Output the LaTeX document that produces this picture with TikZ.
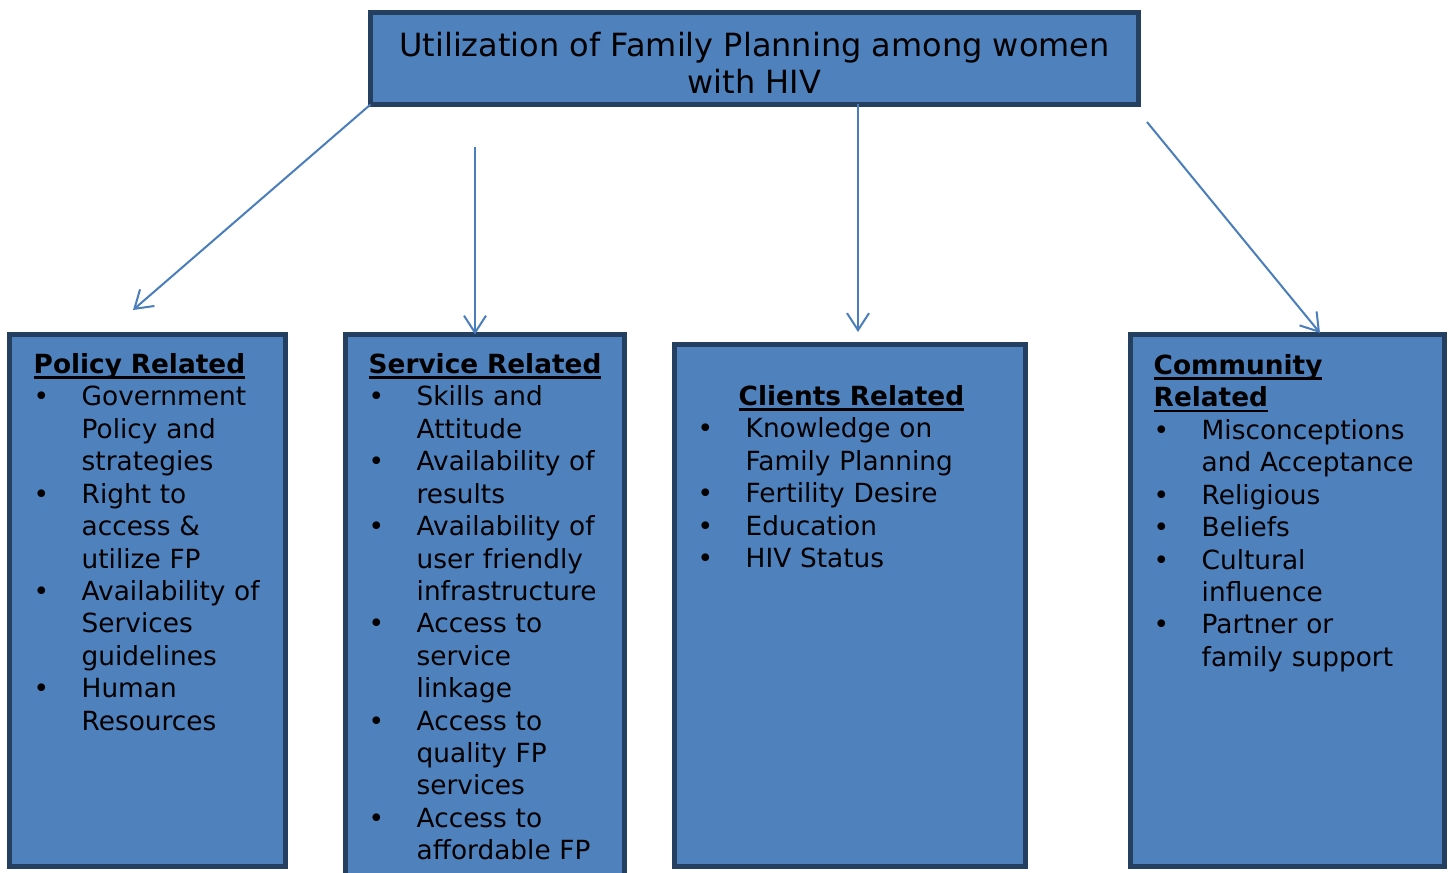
\documentclass[tikz,border=0pt]{standalone}
\usepackage{fontspec}
\setmainfont{DejaVu Sans}
\usepackage{enumitem}
\usetikzlibrary{
  arrows.meta,
  positioning,
  calc
}
\usepackage{xcolor}
\definecolor{boxBlue}{HTML}{4F81BD}
\definecolor{boxEdge}{HTML}{243F60}
\definecolor{arrowBlue}{HTML}{4A7EBB}
\setlist[itemize]{nosep, leftmargin=0.48cm, labelindent=0pt,
  labelwidth=0.2cm, labelsep=0.28cm, align=left, label=\textbullet}
\newcommand{\ulhead}[1]{\leavevmode\setbox0\hbox{\textbf{#1}}%
  \rlap{\rule[-1.5pt]{\wd0}{0.7pt}}\box0}
\tikzset{
  factorBox/.style={
    draw=boxEdge,
    fill=boxBlue,
    line width=1.4pt,
    inner sep=0pt,
    outer sep=0pt,
    anchor=north west
  }
}
\tikzset{
  listText/.style={
    anchor=north west,
    inner sep=0pt,
    text width=3cm,
    align=left,
    font=\fontsize{7.5pt}{9.22pt}\selectfont
  }
}
\tikzset{
  link/.style={
    draw=arrowBlue,
    line width=0.57pt,
    -{Straight Barb[length=1.7mm,width=2.2mm]}
  }
}

\begin{document}
\begin{tikzpicture}
    \useasboundingbox (0,0) rectangle (14.5,-8.72);
    % boxes
    \node[factorBox, minimum width=7.68cm, minimum height=0.92cm]
      (title) at (3.705,-0.125) {};
    \node[factorBox, minimum width=2.76cm, minimum height=5.32cm]
      (policy) at (0.095,-3.345) {};
    \node[factorBox, minimum width=2.79cm, minimum height=5.6cm]
      (service) at (3.455,-3.345) {};
    \node[factorBox, minimum width=3.51cm, minimum height=5.22cm]
      (clients) at (6.745,-3.445) {};
    \node[factorBox, minimum width=3.14cm, minimum height=5.32cm]
      (community) at (11.305,-3.345) {};
    % texts
    \node[anchor=north, inner sep=0pt, align=center,
      font=\fontsize{9.1pt}{10.5pt}\selectfont] (titleText) at (7.545,-0.302)
      {\strut Utilization of Family Planning among women\\with HIV};
    \node[listText] (policyText) at (0.33,-3.502) {\strut\ulhead{Policy Related}
      \begin{itemize}
        \item Government\\Policy and\\strategies
        \item Right to\\access \&\\utilize FP
        \item Availability of\\Services\\guidelines
        \item Human\\Resources
      \end{itemize}};
    \node[listText] (serviceText) at (3.68,-3.502) {\strut\ulhead{Service Related}
      \begin{itemize}
        \item Skills and\\Attitude
        \item Availability of\\results
        \item Availability of\\user friendly\\infrastructure
        \item Access to\\service\\linkage
        \item Access to\\quality FP\\services
        \item Access to\\affordable FP
      \end{itemize}};
    \node[listText] (clientsText) at (6.97,-3.822)
      {\strut\hspace*{0.41cm}\ulhead{Clients Related}
      \begin{itemize}
        \item Knowledge on\\Family Planning
        \item Fertility Desire
        \item Education
        \item HIV Status
      \end{itemize}};
    \node[listText] (communityText) at (11.53,-3.512)
      {\strut\ulhead{Community}\\\strut\ulhead{Related}
      \begin{itemize}
        \item Misconceptions\\and Acceptance
        \item Religious
        \item Beliefs
        \item Cultural\\influence
        \item Partner or\\family support
      \end{itemize}};
    % arrows
    \coordinate (policyTip) at (1.33,-3.10);
    \coordinate (serviceTail) at (4.75,-1.47);
    \coordinate (clientsTip) at (8.58,-3.32);
    \coordinate (communityTail) at (11.47,-1.22);
    \coordinate (communityTip) at (13.20,-3.33);
    \draw[link] (title.south west) -- (policyTip);
    \draw[link] (serviceTail) -- (serviceTail |- service.north);
    \draw[link] (title.south -| clientsTip) -- (clientsTip);
    \draw[link] (communityTail) -- (communityTip);
\end{tikzpicture}
\end{document}
